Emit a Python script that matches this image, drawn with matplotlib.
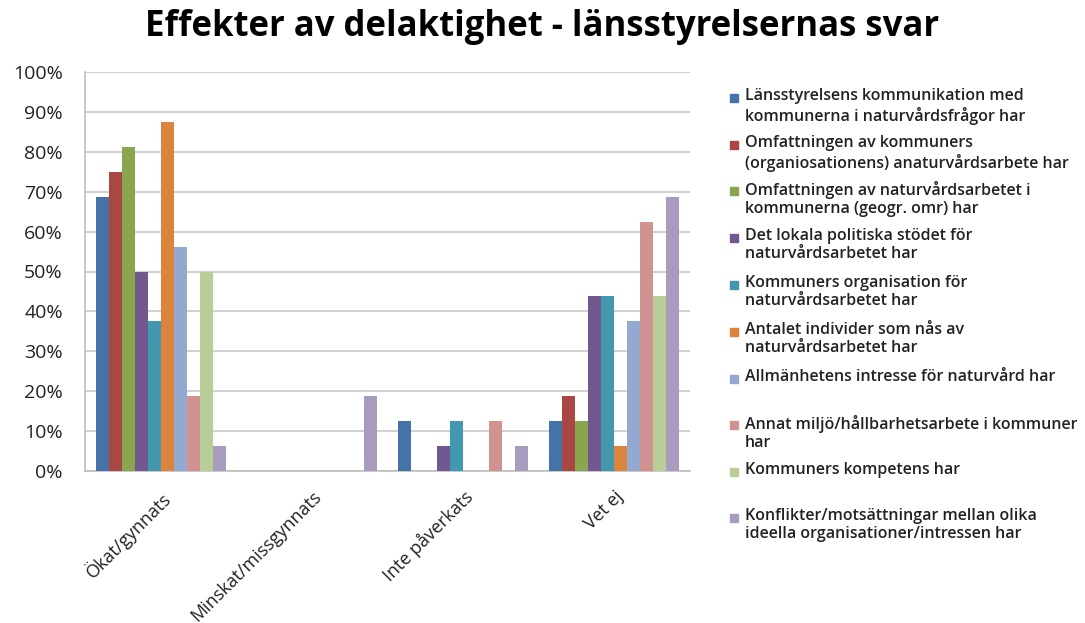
import matplotlib.pyplot as plt
from matplotlib.patches import Rectangle
import numpy as np

plt.rcParams['font.family'] = ['Open Sans', 'DejaVu Sans']

# Categories and series (percent)
categories = ['Ökat/gynnats', 'Minskat/missgynnats', 'Inte påverkats', 'Vet ej']
series_labels = [
    'Länsstyrelsens kommunikation med\nkommunerna i naturvårdsfrågor har',
    'Omfattningen av kommuners\n(organiosationens) anaturvårdsarbete har',
    'Omfattningen av naturvårdsarbetet i\nkommunerna (geogr. omr) har',
    'Det lokala politiska stödet för\nnaturvårdsarbetet har',
    'Kommuners organisation för\nnaturvårdsarbetet har',
    'Antalet individer som nås av\nnaturvårdsarbetet har',
    'Allmänhetens intresse för naturvård har',
    'Annat miljö/hållbarhetsarbete i kommuner\nhar',
    'Kommuners kompetens har',
    'Konflikter/motsättningar mellan olika\nideella organisationer/intressen har',
]
lansstyrelsen = [68.75, 0, 12.5, 12.5]
omf_kommuner = [75, 0, 0, 18.75]
omf_naturvard = [81.25, 0, 0, 12.5]
politiskt_stod = [50, 0, 6.25, 43.75]
organisation = [37.5, 0, 12.5, 43.75]
antal_individer = [87.5, 0, 0, 6.25]
allmanhet = [56.25, 0, 0, 37.5]
annat_miljo = [18.75, 0, 12.5, 62.5]
kompetens = [50, 0, 0, 43.75]
konflikter = [6.25, 18.75, 6.25, 68.75]
values = [lansstyrelsen, omf_kommuner, omf_naturvard, politiskt_stod, organisation,
          antal_individer, allmanhet, annat_miljo, kompetens, konflikter]

colors = ['#4572A7', '#AA4643', '#89A54E', '#71588F', '#4198AF',
          '#DB843D', '#93A9CF', '#D19392', '#B9CD96', '#A99BBD']

W, H = 1085, 623
fig = plt.figure(figsize=(W / 100, H / 100), dpi=100)
ax = fig.add_axes([85 / W, 1 - 471 / H, (690 - 85) / W, (471 - 72) / H])

x = np.arange(len(categories))
n = len(values)
bw = 0.086
for i, (vals, c) in enumerate(zip(values, colors)):
    ax.bar(x + (i - (n - 1) / 2) * bw, vals, width=bw, color=c, zorder=3)

ax.set_xlim(-0.5, len(categories) - 0.5)
ax.set_ylim(0, 100)
ax.set_yticks(np.arange(0, 101, 10))
ax.set_yticklabels([f'{v}%' for v in range(0, 101, 10)], fontsize=14, color='#222222')
ax.yaxis.grid(True, color='#c8c8c8', linewidth=1.2, zorder=0)
ax.set_xticks(x)
ax.set_xticklabels(categories, rotation=45, ha='right', rotation_mode='anchor',
                   fontsize=13, color='#222222')
ax.tick_params(axis='x', length=0, pad=12)
ax.tick_params(axis='y', length=0, pad=16)
for s in ['top', 'right']:
    ax.spines[s].set_visible(False)
for s in ['left', 'bottom']:
    ax.spines[s].set_color('#bdbdbd')
    ax.spines[s].set_linewidth(1.2)

fig.text(0.5, 1 - 27 / H, 'Effekter av delaktighet - länsstyrelsernas svar',
         ha='center', va='center', fontsize=25, fontweight='bold')

# legend
marker_y = [98, 145, 191, 238, 285, 332, 379, 425, 472, 518]
for lab, c, my in zip(series_labels, colors, marker_y):
    fig.patches.append(Rectangle((730 / W, 1 - (my + 4) / H), 8 / W, 8 / H,
                                 transform=fig.transFigure, color=c))
    fig.text(745 / W, 1 - (my - 10) / H, lab, ha='left', va='top',
             fontsize=11.5, fontweight='semibold', color='#222222', linespacing=1.2)

fig.savefig('out.png', dpi=100)
